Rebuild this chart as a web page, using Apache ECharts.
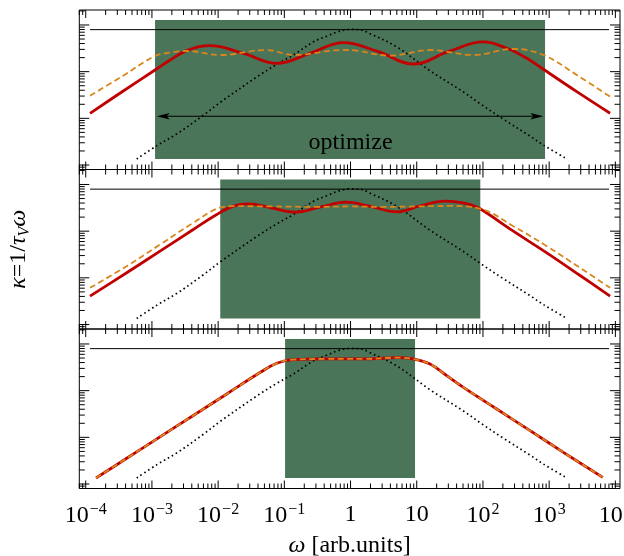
<!DOCTYPE html>
<html><head><meta charset="utf-8">
<script src="https://cdn.jsdelivr.net/npm/echarts@6/dist/echarts.min.js"></script>
<style>html,body{margin:0;padding:0;background:#fff}#c{width:624px;height:556px}</style>
</head><body><div id="c"></div>
<script>
// ---- axis ranges, as log10 exponents ----
const omegaExpRange = [-4.097, 4.07];
const kappaExpRange = [-3.096, 0.321];
const xMajorExps = [-5, -4, -3, -2, -1, 0, 1, 2, 3, 4];
const yMajorExps = [-4, -3, -2, -1, 0];
const minorMultipliers = [2, 3, 4, 5, 6, 7, 8, 9];

// ---- curves: pairs [log10 ω, log10 κ] ----
const refLine = [[-3.935, -0.1], [3.905, -0.1]];
const debyeDotted = [[-3.23,-2.87],[-2.93,-2.59],[-2.62,-2.33],[-2.22,-1.93],[-1.97,-1.66],[-1.37,-1.07],[-1.11,-0.84],[-0.86,-0.64],[-0.56,-0.36],[-0.36,-0.24],[-0.16,-0.13],[0.0,-0.095],[0.14,-0.1],[0.3,-0.19],[0.7,-0.47],[1.2,-0.98],[1.71,-1.44],[1.96,-1.69],[2.31,-2.02],[2.71,-2.38],[2.91,-2.57],[3.27,-2.87]];

const redTop = [[-3.935,-1.892],[-3.45,-1.43],[-2.953,-0.964],[-2.724,-0.75],[-2.474,-0.55],[-2.122,-0.443],[-1.619,-0.607],[-1.115,-0.821],[-0.612,-0.607],[-0.109,-0.379],[0.42,-0.572],[0.949,-0.836],[1.477,-0.572],[2.006,-0.364],[2.36,-0.499],[2.662,-0.713],[2.912,-0.949],[3.417,-1.429],[3.92,-1.892]];
const orangeTop = [[-3.935,-1.515],[-3.45,-1.10],[-2.953,-0.664],[-2.724,-0.593],[-2.474,-0.557],[-1.97,-0.643],[-1.27,-0.536],[-0.86,-0.643],[-0.109,-0.536],[0.094,-0.55],[0.597,-0.657],[1.201,-0.536],[1.855,-0.643],[2.459,-0.514],[2.912,-0.643],[3.417,-1.071],[3.92,-1.536]];

const redMid = [[-3.935,-2.393],[-3.381,-1.892],[-2.878,-1.429],[-2.375,-0.964],[-2.021,-0.643],[-1.77,-0.465],[-1.544,-0.414],[-1.2,-0.5],[-0.838,-0.593],[-0.45,-0.48],[-0.07,-0.379],[0.3,-0.47],[0.698,-0.586],[1.05,-0.46],[1.428,-0.358],[1.806,-0.429],[1.957,-0.521],[2.459,-1.0],[2.964,-1.464],[3.467,-1.95],[3.92,-2.393]];
const orangeMid = [[-3.935,-2.214],[-3.381,-1.75],[-2.878,-1.286],[-2.375,-0.821],[-2.021,-0.521],[-1.77,-0.465],[-1.2,-0.47],[-0.5,-0.48],[0.0,-0.47],[0.5,-0.48],[1.0,-0.47],[1.5,-0.46],[1.957,-0.521],[2.459,-0.893],[2.964,-1.321],[3.467,-1.785],[3.92,-2.214]];

const redBottom = [[-3.844,-2.871],[-3.381,-2.449],[-2.878,-1.99],[-2.375,-1.531],[-1.87,-1.071],[-1.367,-0.612],[-1.115,-0.414],[-0.864,-0.336],[-0.36,-0.321],[0.193,-0.321],[0.698,-0.293],[0.949,-0.321],[1.201,-0.429],[1.453,-0.679],[1.704,-0.929],[2.208,-1.393],[2.712,-1.857],[3.215,-2.321],[3.81,-2.857]];
const orangeBottom = [[-3.844,-2.871],[-3.381,-2.449],[-2.878,-1.99],[-2.375,-1.531],[-1.87,-1.071],[-1.367,-0.612],[-1.115,-0.414],[-0.864,-0.336],[-0.36,-0.321],[0.193,-0.321],[0.698,-0.293],[0.949,-0.321],[1.201,-0.429],[1.453,-0.679],[1.704,-0.929],[2.208,-1.393],[2.712,-1.857],[3.215,-2.321],[3.81,-2.857]];

// optimisation windows: [ω from, ω to] exponents per panel, and κ span
const windowOmega = [[-2.953, 2.938], [-1.968, 1.96], [-0.989, 0.974]];
const windowKappa = [-2.87, 0.107];
const arrowOmega = [-2.927, 2.912];
const arrowKappa = -1.956;
const optimizeText = 'optimize';
const optimizeAt = [0.0, -2.53];

// ---- helpers ----
const P = e => Math.pow(10, e);
const toPts = arr => arr.map(([a, b]) => [P(a), P(b)]);
const SERIF = 'Liberation Serif';
const GREEN = '#4a7558';
const RED = '#c00000';
const ORANGE = '#d9861c';
const FS = 24;

const panels = [
  { red: redTop, orange: orangeTop },
  { red: redMid, orange: orangeMid },
  { red: redBottom, orange: orangeBottom }
];
const gridTops = [10, 169.5, 329];
const gridH = 159.5;

function tickItems() {
  const d = [];
  xMajorExps.forEach(n => {
    [1].concat(minorMultipliers).forEach(k => {
      const v = k * P(n), e = Math.log10(v);
      if (e > omegaExpRange[0] && e < omegaExpRange[1]) d.push([v, 1, k === 1 ? 0 : 1]);
    });
  });
  yMajorExps.forEach(n => {
    [1].concat(minorMultipliers).forEach(k => {
      const v = k * P(n), e = Math.log10(v);
      if (e > kappaExpRange[0] && e < kappaExpRange[1]) d.push([1, v, k === 1 ? 2 : 3]);
    });
  });
  return d;
}
const ticks = tickItems();

function renderTick(params, api) {
  const cs = params.coordSys;
  const t = api.value(2);
  const st = { stroke: '#000', lineWidth: 1 };
  if (t < 2) {
    const px = api.coord([api.value(0), 1])[0];
    const L = t === 0 ? 8 : 5;
    return { type: 'group', children: [
      { type: 'line', shape: { x1: px, y1: cs.y + cs.height, x2: px, y2: cs.y + cs.height - L }, style: st },
      { type: 'line', shape: { x1: px, y1: cs.y, x2: px, y2: cs.y + L }, style: st }
    ]};
  } else {
    const py = api.coord([1, api.value(1)])[1];
    const L = t === 2 ? 10 : 5.5;
    return { type: 'group', children: [
      { type: 'line', shape: { x1: cs.x, y1: py, x2: cs.x + L, y2: py }, style: st },
      { type: 'line', shape: { x1: cs.x + cs.width, y1: py, x2: cs.x + cs.width - L, y2: py }, style: st }
    ]};
  }
}

function renderBox(params, api) {
  const a = api.coord([api.value(0), api.value(3)]);
  const b = api.coord([api.value(2), api.value(1)]);
  return { type: 'rect', shape: { x: a[0], y: a[1], width: b[0] - a[0], height: b[1] - a[1] }, style: { fill: GREEN } };
}

function renderArrow(params, api) {
  const p0 = api.coord([api.value(0), api.value(1)]);
  const p1 = api.coord([api.value(2), api.value(1)]);
  const tp = api.coord([api.value(3), api.value(4)]);
  const hl = 13, hw = 3.2, notch = 10;
  return { type: 'group', children: [
    { type: 'line', shape: { x1: p0[0] + 4, y1: p0[1], x2: p1[0] - 4, y2: p1[1] }, style: { stroke: '#000', lineWidth: 1.1 } },
    { type: 'polygon', shape: { points: [[p0[0], p0[1]], [p0[0] + hl, p0[1] - hw], [p0[0] + notch, p0[1]], [p0[0] + hl, p0[1] + hw]] }, style: { fill: '#000' } },
    { type: 'polygon', shape: { points: [[p1[0], p1[1]], [p1[0] - hl, p1[1] - hw], [p1[0] - notch, p1[1]], [p1[0] - hl, p1[1] + hw]] }, style: { fill: '#000' } },
    { type: 'text', x: tp[0], y: tp[1], style: { text: optimizeText, font: FS + 'px "' + SERIF + '"', fill: '#000', align: 'center', verticalAlign: 'middle' } }
  ]};
}

function xLabel(v) {
  const e = Math.log10(v), r = Math.round(e);
  if (Math.abs(e - r) > 1e-6) return '';
  if (r === 0) return '{b|1}';
  if (r === 1) return '{b|10}';
  return '{b|10}{s|' + (r < 0 ? '\u2212' : '') + Math.abs(r) + '}';
}

const grid = [], xAxis = [], yAxis = [], series = [];
panels.forEach((pn, i) => {
  grid.push({ left: 79.3, width: 540.7, top: gridTops[i], height: gridH, show: true, borderColor: '#000', borderWidth: 1, backgroundColor: 'transparent', outerBoundsMode: 'none', containLabel: false });
  xAxis.push({
    type: 'log', gridIndex: i, min: P(omegaExpRange[0]), max: P(omegaExpRange[1]),
    axisLine: { show: false }, axisTick: { show: false }, splitLine: { show: false },
    axisLabel: i === 2 ? {
      show: true, margin: 13, formatter: xLabel, alignMinLabel: 'center', alignMaxLabel: 'center',
      hideOverlap: false,
      rich: {
        b: { fontFamily: SERIF, fontSize: FS, color: '#000', lineHeight: 26 },
        s: { fontFamily: SERIF, fontSize: 16, color: '#000', padding: [0, 0, 13, 1] }
      }
    } : { show: false },
    name: i === 2 ? '{i|\u03c9} [arb.units]' : '',
    nameLocation: 'middle', nameGap: 45,
    nameTextStyle: { fontFamily: SERIF, fontSize: FS, color: '#000',
      rich: { i: { fontFamily: SERIF, fontSize: FS, fontStyle: 'italic', color: '#000' } } }
  });
  yAxis.push({
    type: 'log', gridIndex: i, min: P(kappaExpRange[0]), max: P(kappaExpRange[1]),
    axisLine: { show: false }, axisTick: { show: false }, splitLine: { show: false }, axisLabel: { show: false },
    name: i === 1 ? '{i|\u03ba}=1/{i|\u03c4}{sub|V}{i|\u03c9}' : '',
    nameLocation: 'middle', nameGap: 47, nameRotate: 90,
    nameTextStyle: { fontFamily: SERIF, fontSize: FS, color: '#000',
      rich: {
        i: { fontFamily: SERIF, fontSize: FS, fontStyle: 'italic', color: '#000' },
        sub: { fontFamily: SERIF, fontSize: 16, fontStyle: 'italic', color: '#000', padding: [11, 0, 0, 0] }
      } }
  });
  const ax = { xAxisIndex: i, yAxisIndex: i };
  series.push(Object.assign({ type: 'custom', z: 1, clip: false, renderItem: renderBox,
    encode: { x: [0, 2], y: [1, 3] },
    data: [[P(windowOmega[i][0]), P(windowKappa[0]), P(windowOmega[i][1]), P(windowKappa[1])]] }, ax));
  series.push(Object.assign({ type: 'line', z: 3, showSymbol: false, data: toPts(refLine),
    lineStyle: { color: '#000', width: 1 } }, ax));
  series.push(Object.assign({ type: 'line', z: 3, showSymbol: false, smooth: 0.35, data: toPts(debyeDotted),
    lineStyle: { color: '#000', width: 1.7, type: [1.6, 3.0] } }, ax));
  series.push(Object.assign({ type: 'line', z: 4, showSymbol: false, smooth: 0.4, data: toPts(pn.red),
    lineStyle: { color: RED, width: 2.8 } }, ax));
  series.push(Object.assign({ type: 'line', z: 5, showSymbol: false, smooth: 0.4, data: toPts(pn.orange),
    lineStyle: { color: ORANGE, width: 1.8, type: [6, 3.5] } }, ax));
  series.push(Object.assign({ type: 'custom', z: 6, clip: false, renderItem: renderTick,
    encode: { x: 0, y: 1 }, data: ticks }, ax));
  if (i === 0) {
    series.push(Object.assign({ type: 'custom', z: 6, clip: false, renderItem: renderArrow,
      encode: { x: [0, 2], y: 1 },
      data: [[P(arrowOmega[0]), P(arrowKappa), P(arrowOmega[1]), P(optimizeAt[0]), P(optimizeAt[1])]] }, ax));
  }
});

const chart = echarts.init(document.getElementById('c'), null, { renderer: 'canvas' });
chart.setOption({ animation: false, backgroundColor: '#fff', grid, xAxis, yAxis, series });
</script></body></html>
